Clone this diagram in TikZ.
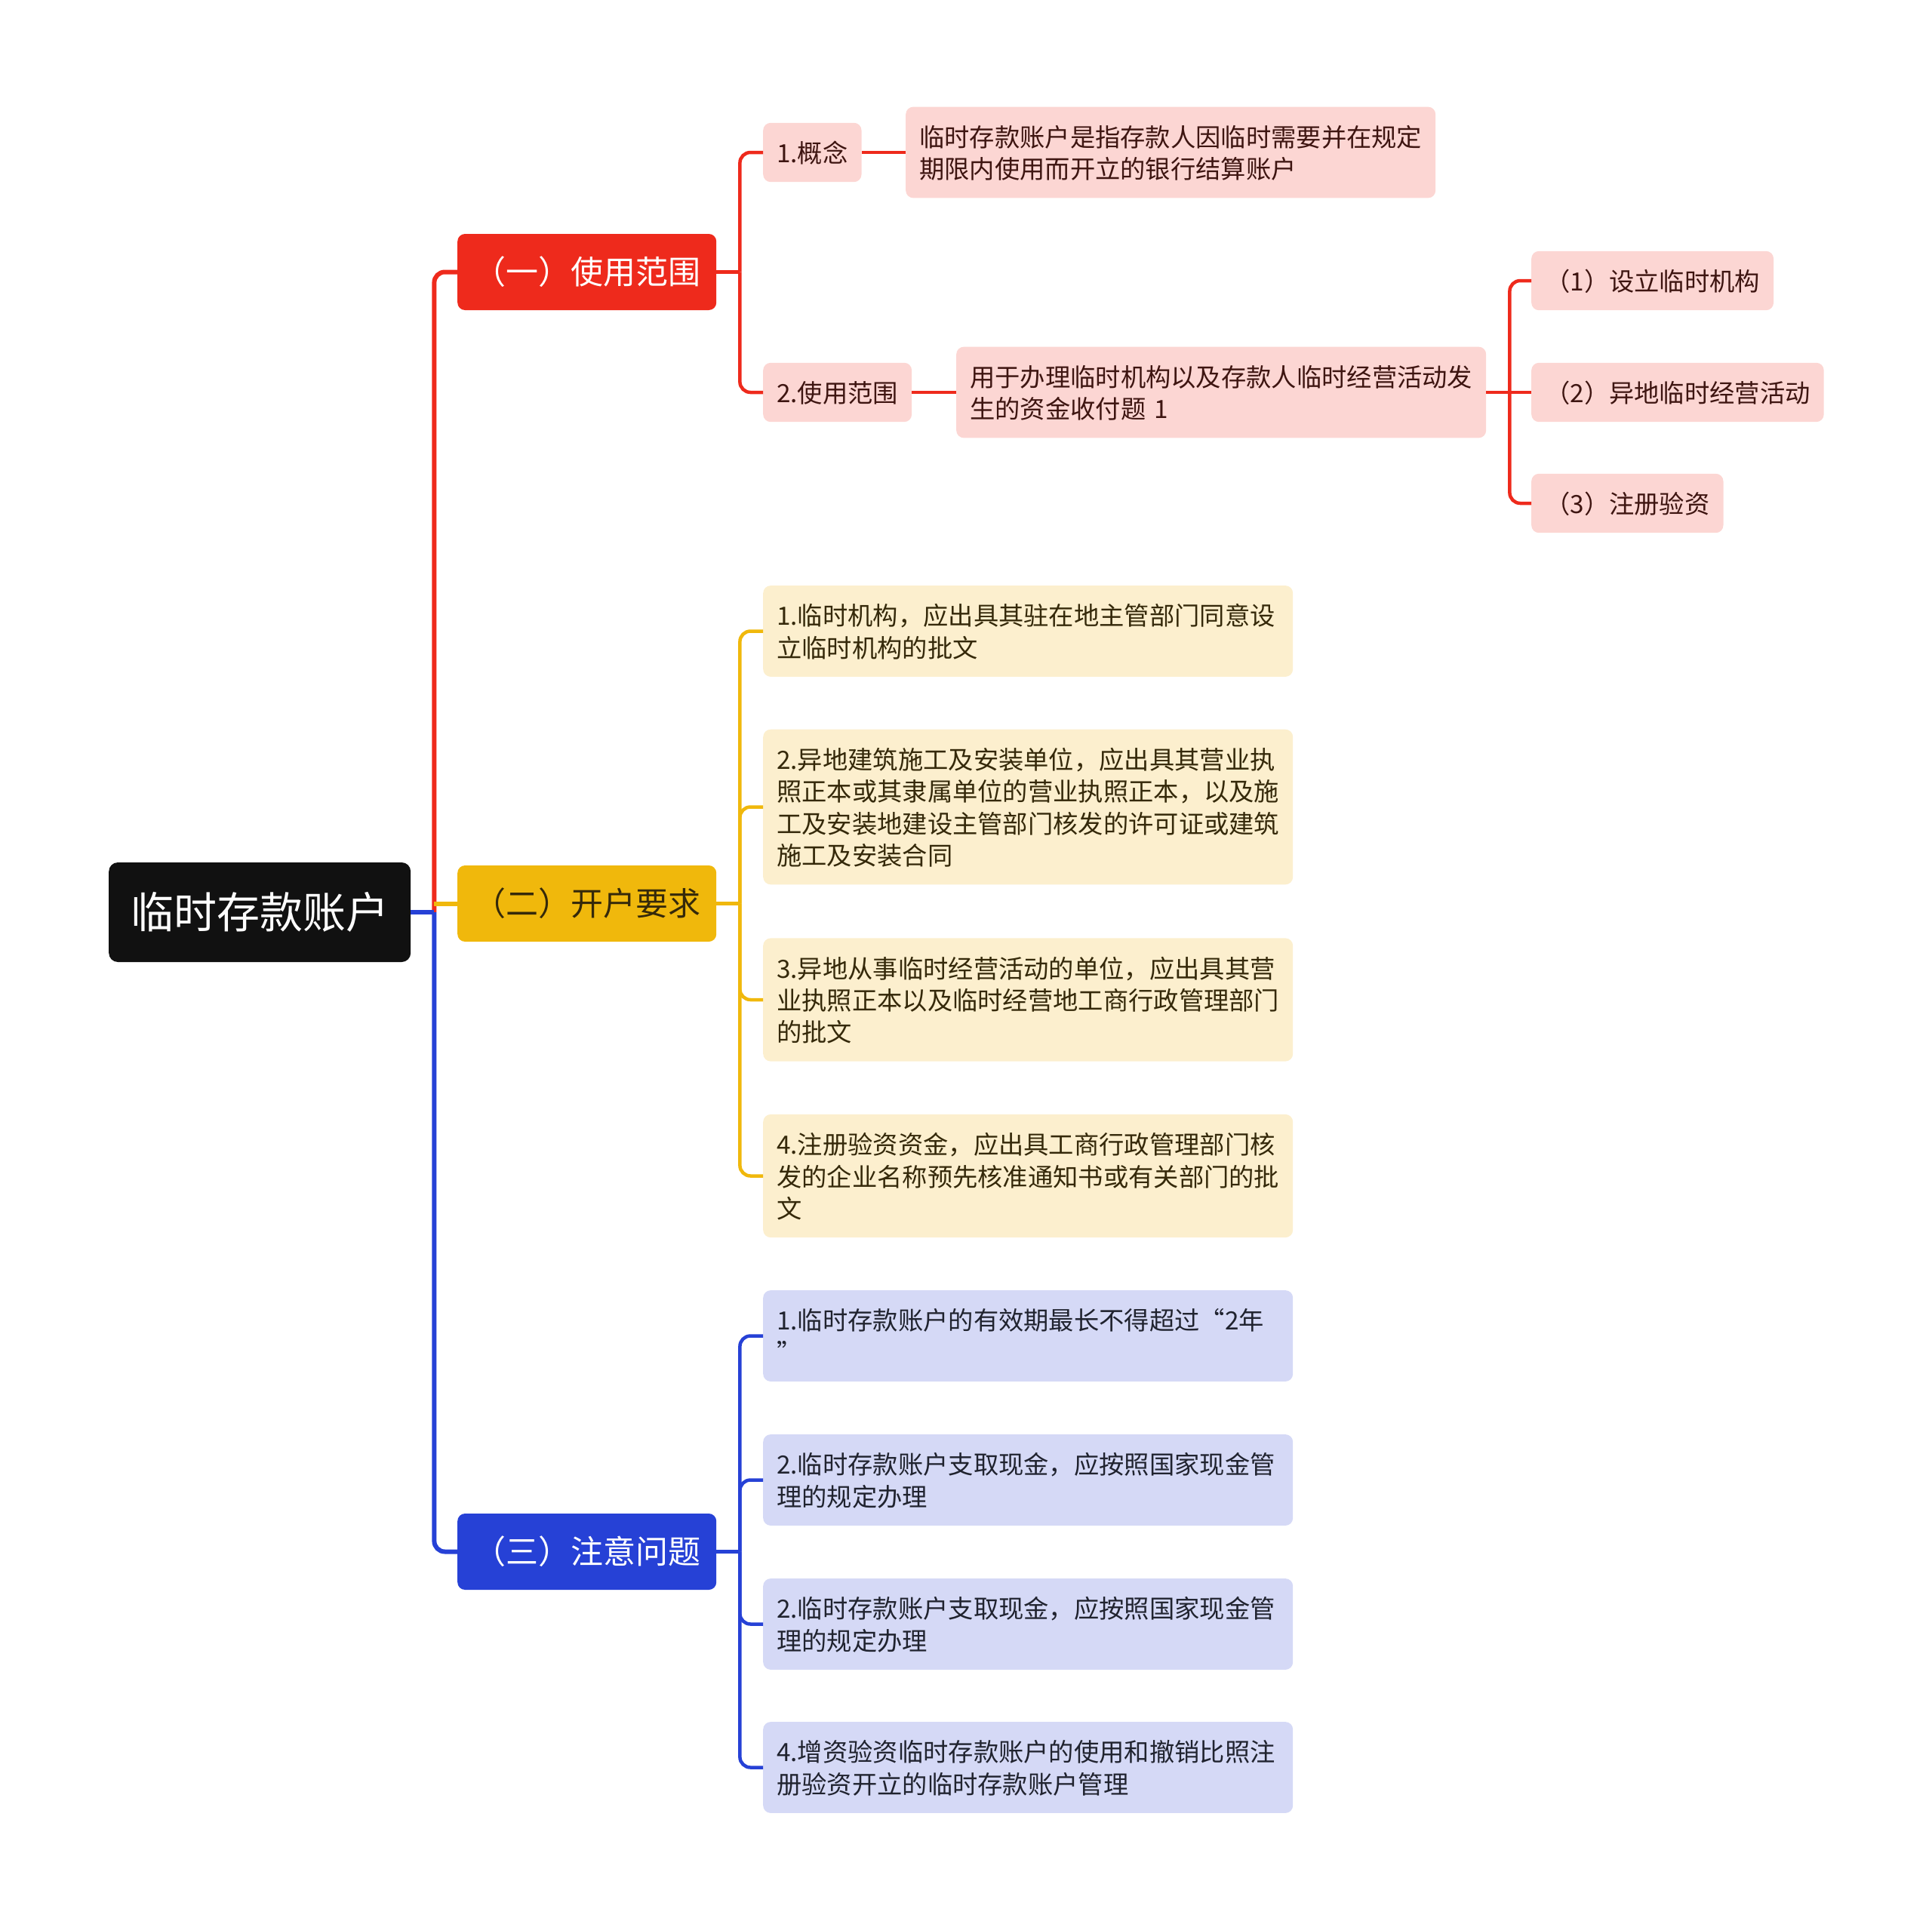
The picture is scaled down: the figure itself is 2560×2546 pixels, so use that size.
\documentclass[tikz,border=0pt]{standalone}
\usepackage{fontspec}
\setmainfont{Noto Sans CJK SC}
\definecolor{cred}{HTML}{EE2A1C}
\definecolor{cpink}{HTML}{FCD6D3}
\definecolor{credtxt}{HTML}{3E1511}
\definecolor{cyel}{HTML}{F0B80C}
\definecolor{cyelfill}{HTML}{FCEFCE}
\definecolor{cyeltxt}{HTML}{35290A}
\definecolor{cblu}{HTML}{2641D6}
\definecolor{cblufill}{HTML}{D5D9F6}
\definecolor{cblutxt}{HTML}{20232F}
\definecolor{croot}{HTML}{111111}
\newcommand\leafstrut{\rule[-7.7pt]{0pt}{42.4pt}}

\tikzset{
  rootbox/.style={anchor=west, fill=croot, text=white, rounded corners=12pt,
    minimum width=400pt, minimum height=132pt, inner sep=0pt,
    font=\fontsize{57}{64}\selectfont},
  topic/.style={anchor=west, rounded corners=10pt, text=white,
    minimum width=343pt, minimum height=101pt, inner sep=0pt,
    font=\fontsize{43}{50}\selectfont},
  leaf/.style={anchor=west, rounded corners=10pt, inner xsep=18pt, inner ysep=18pt,
    align=left, font=\fontsize{33.3}{42.4}\selectfont,
    execute at begin node=\leafstrut, execute at end node=\leafstrut},
  pinkbox/.style={leaf, fill=cpink, text=credtxt},
  yelbox/.style={leaf, fill=cyelfill, text=cyeltxt, text width=666pt},
  blubox/.style={leaf, fill=cblufill, text=cblutxt, text width=666pt},
  rline/.style={draw=cred, line width=4.5pt},
  yline/.style={draw=cyel, line width=4.5pt},
  bline/.style={draw=cblu, line width=4.5pt},
  elbow/.style={rounded corners=14pt}
}

\begin{document}
\begin{tikzpicture}[x=1pt,y=1pt,yscale=-1]
\useasboundingbox (0,0) rectangle (2560,2546);

% root and the three topics
\node[rootbox] (root) at (144,1209) {临时存款账户};
\node[topic, fill=cred] (usage) at (606,360.5) {（一）使用范围};
\node[topic, fill=cyel, text=cyeltxt] (opening) at (606,1197.5) {（二）开户要求};
\node[topic, fill=cblu] (notice) at (606,2056.5) {（三）注意问题};

% red branch
\node[pinkbox] (concept) at (1011,202) {1.概念};
\node[pinkbox, text width=666pt] (conceptdef) at (1200,202) {临时存款账户是指存款人因临时需要并在规定\\期限内使用而开立的银行结算账户};
\node[pinkbox] (scope) at (1011,520) {2.使用范围};
\node[pinkbox, text width=666pt] (scopedef) at (1267,520) {用于办理临时机构以及存款人临时经营活动发\\生的资金收付题 1};
\node[pinkbox] (scopeA) at (2029,372) {（1）设立临时机构};
\node[pinkbox] (scopeB) at (2029,520) {（2）异地临时经营活动};
\node[pinkbox] (scopeC) at (2029,667) {（3）注册验资};

% yellow branch
\node[yelbox] (reqA) at (1011,836.5) {1.临时机构，应出具其驻在地主管部门同意设\\立临时机构的批文};
\node[yelbox] (reqB) at (1011,1069.5) {2.异地建筑施工及安装单位，应出具其营业执\\照正本或其隶属单位的营业执照正本，以及施\\工及安装地建设主管部门核发的许可证或建筑\\施工及安装合同};
\node[yelbox] (reqC) at (1011,1325) {3.异地从事临时经营活动的单位，应出具其营\\业执照正本以及临时经营地工商行政管理部门\\的批文};
\node[yelbox] (reqD) at (1011,1558.5) {4.注册验资资金，应出具工商行政管理部门核\\发的企业名称预先核准通知书或有关部门的批\\文};

% blue branch
\node[blubox] (noteA) at (1011,1770.5) {1.临时存款账户的有效期最长不得超过“2年\\”};
\node[blubox] (noteB) at (1011,1961.5) {2.临时存款账户支取现金，应按照国家现金管\\理的规定办理};
\node[blubox] (noteC) at (1011,2152.5) {2.临时存款账户支取现金，应按照国家现金管\\理的规定办理};
\node[blubox] (noteD) at (1011,2342.5) {4.增资验资临时存款账户的使用和撤销比照注\\册验资开立的临时存款账户管理};

% connectors from root
\draw[rline, elbow, line width=6pt] (root.east) ++(31,0) |- (usage.west);
\draw[yline, line width=6pt] (opening.west) -- ++(-31,0);
\draw[bline, elbow, line width=6pt] (root.east) ++(31,0) |- (notice.west);
\draw[bline, line width=6pt] (root.east) -- ++(31,0);

% red connectors
\draw[rline] (usage.east) -- ++(31,0);
\foreach \n in {concept,scope}
  \draw[rline, elbow] (usage.east) ++(31,0) |- (\n.west);
\draw[rline] (concept.east) -- (conceptdef.west);
\draw[rline] (scope.east) -- (scopedef.west);
\draw[rline] (scopedef.east) -- (scopeB.west);
\foreach \n in {scopeA,scopeC}
  \draw[rline, elbow] (scopedef.east) ++(31,0) |- (\n.west);

% yellow connectors
\draw[yline] (opening.east) -- ++(31,0);
\foreach \n in {reqA,reqB,reqC,reqD}
  \draw[yline, elbow] (opening.east) ++(31,0) |- (\n.west);

% blue connectors
\draw[bline] (notice.east) -- ++(31,0);
\foreach \n in {noteA,noteB,noteC,noteD}
  \draw[bline, elbow] (notice.east) ++(31,0) |- (\n.west);

\end{tikzpicture}
\end{document}
